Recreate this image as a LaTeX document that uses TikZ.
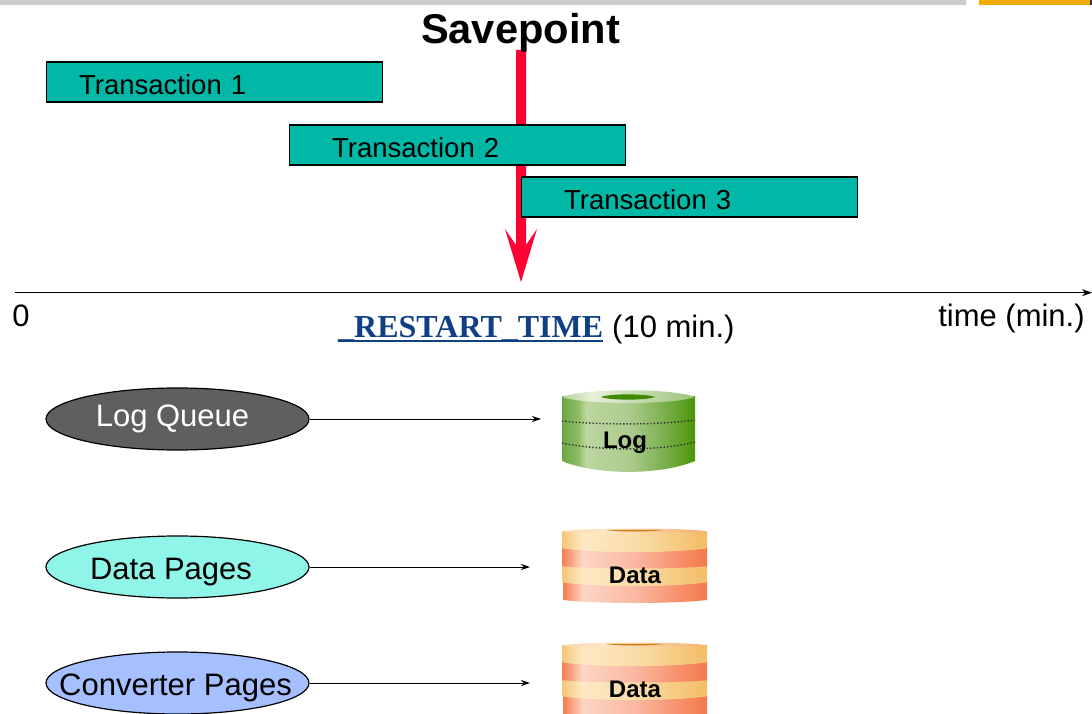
\documentclass[tikz,border=0pt]{standalone}
\usepackage{fontspec}
\setmainfont{Liberation Sans}
\newfontfamily\serifbold[BoldFont={Liberation Serif Bold}]{Liberation Serif}
\usetikzlibrary{arrows.meta,shapes.geometric}
\definecolor{teal1}{HTML}{00B8A5}
\definecolor{redarrow}{HTML}{FF0033}
\definecolor{navy1}{HTML}{0F3F84}
\definecolor{gbar}{HTML}{CCCCCC}
\definecolor{obar}{HTML}{F0AB00}
\definecolor{dbar}{HTML}{1F3A5F}
\definecolor{poolgrey}{HTML}{5F5F5F}
\definecolor{poolaqua}{HTML}{8FF5E8}
\definecolor{poolblue}{HTML}{A6C0FF}
\definecolor{holegreen}{HTML}{3F8A00}
\definecolor{holeorange}{HTML}{C88010}
\pgfdeclarehorizontalshading{logshade}{100bp}{rgb(0bp)=(0.42,0.65,0.27); rgb(25bp)=(0.42,0.65,0.27); rgb(31bp)=(0.55,0.74,0.40); rgb(34bp)=(0.74,0.84,0.62); rgb(50bp)=(0.68,0.80,0.56); rgb(62bp)=(0.50,0.70,0.33); rgb(75bp)=(0.29,0.59,0.03); rgb(100bp)=(0.29,0.59,0.03)}
\pgfdeclarehorizontalshading{logtop}{100bp}{rgb(0bp)=(0.70,0.82,0.60); rgb(25bp)=(0.70,0.82,0.60); rgb(36bp)=(0.90,0.94,0.85); rgb(50bp)=(0.80,0.88,0.72); rgb(75bp)=(0.62,0.76,0.48); rgb(100bp)=(0.62,0.76,0.48)}
\pgfdeclarehorizontalshading{yelshade}{100bp}{rgb(0bp)=(0.96,0.78,0.47); rgb(25bp)=(0.96,0.78,0.47); rgb(32bp)=(0.99,0.91,0.77); rgb(50bp)=(0.98,0.87,0.66); rgb(75bp)=(0.95,0.74,0.40); rgb(100bp)=(0.95,0.74,0.40)}
\pgfdeclarehorizontalshading{redshade}{100bp}{rgb(0bp)=(0.97,0.49,0.31); rgb(25bp)=(0.97,0.49,0.31); rgb(32bp)=(0.99,0.84,0.77); rgb(50bp)=(0.98,0.72,0.63); rgb(75bp)=(0.96,0.47,0.29); rgb(100bp)=(0.96,0.47,0.29)}
\pgfdeclarehorizontalshading{toppale}{100bp}{rgb(0bp)=(0.98,0.84,0.66); rgb(25bp)=(0.98,0.84,0.66); rgb(40bp)=(0.99,0.91,0.80); rgb(75bp)=(0.96,0.68,0.44); rgb(100bp)=(0.96,0.68,0.44)}
% band between two arcs: x1,x2,ytop,ybot,top bulge,bottom bulge,shading
\newcommand{\cylband}[7]{%
  \shade[shading=#7] (#1,#3) .. controls (#1+35,#3+#5) and (#2-35,#3+#5) .. (#2,#3)
    -- (#2,#4) .. controls (#2-35,#4+#6) and (#1+35,#4+#6) .. (#1,#4) -- cycle;}
\newcommand{\datacyl}[1]{%
  \begin{scope}[yshift=-#1pt]
    \cylband{563}{707}{582}{600}{5}{4}{redshade}
    \cylband{562}{707}{566}{582.3}{3}{5}{yelshade}
    \cylband{562}{707}{548}{566.3}{5}{3}{redshade}
    \cylband{562}{707}{531}{548.3}{0}{5}{yelshade}
    \shade[shading=toppale] (562,531.5) .. controls (580,527.5) and (690,527.5) .. (707,531.5) .. controls (690,533) and (580,533) .. (562,531.5) -- cycle;
    \fill[holeorange] (606,530) .. controls (615,529.7) and (653,529.7) .. (663,530) .. controls (650,532) and (618,532) .. (606,530) -- cycle;
  \end{scope}}
\tikzset{
  trans/.style={draw=black,line width=1.3pt,fill=teal1,text width=336pt,minimum height=40pt,inner xsep=0pt,inner ysep=0pt,align=left,font=\fontsize{27.5}{30}\selectfont,anchor=north west},
  pool/.style={ellipse,draw=black,line width=1.2pt,minimum width=263pt,minimum height=62pt,inner sep=0pt},
  big/.style={inner sep=0pt,font=\fontsize{31}{34}\selectfont},
  disklabel/.style={inner sep=0pt,font=\bfseries\fontsize{24}{26}\selectfont},
  link/.style={line width=1pt,-{Stealth[length=9pt,width=6pt]}},
}
\begin{document}
\begin{tikzpicture}[x=1pt,y=-1pt]
\useasboundingbox (0,0) rectangle (1092,714);
\clip (0,0) rectangle (1092,714);
% top bar
\fill[gbar] (0,0) rectangle (966,5);
\fill[obar] (979,0) rectangle (1090,5);
\fill[dbar] (1090,0) rectangle (1092,5);
% savepoint arrow
\fill[redarrow] (516,50) -- (526,50) -- (526,245) -- (537,229) -- (521,282) -- (505,229) -- (516,245) -- cycle;
\node[inner sep=0pt,font=\bfseries\fontsize{41.6}{44}\selectfont] (title) at (520.5,33) {Savepoint};
% transactions
\node[trans] (t1) at (45.5,61.5) {\hspace*{33pt}\rule{0pt}{24pt}Transaction 1};
\node[trans] (t2) at (288.5,124.5) {\hspace*{43pt}\rule{0pt}{24pt}Transaction 2};
\node[trans] (t3) at (520.5,176.5) {\hspace*{43pt}\rule{0pt}{24pt}Transaction 3};
% time axis
\coordinate (axL) at (15,292.7);
\coordinate (axR) at (1092,292.7);
\draw[line width=1pt,-{Stealth[length=10pt,width=7pt]}] (axL) -- (axR);
\node[big,anchor=base] (zero) at (21,326) {0};
\node[big,anchor=base] (timel) at (1011.5,326) {time (min.)};
\node[inner sep=0pt,anchor=base west,text=navy1,font=\serifbold\bfseries\fontsize{32}{34}\selectfont] (rt) at (338,337) {\_RESTART\_TIME};
\draw[navy1,line width=1.3pt] (338,341) -- (603,341);
\node[big,anchor=base west] (ten) at (612,337) {(10 min.)};
% log disk
\cylband{562}{695}{396}{461}{0}{14.5}{logshade}
\shade[shading=logtop] (562,397) .. controls (585,388) and (672,388) .. (695,397) .. controls (672,405) and (585,405) .. (562,397) -- cycle;
\fill[holegreen] (601,397) .. controls (610,393.5) and (646,393.5) .. (655,397) .. controls (646,400.5) and (610,400.5) .. (601,397) -- cycle;
\draw[black!80,line width=1.4pt,dotted] (562,421) .. controls (600,425) and (660,425) .. (695,420);
\draw[black!80,line width=1.4pt,dotted] (562,443) .. controls (600,451) and (660,451) .. (695,442);
\node[disklabel] (logd) at (625,443) {Log};
% data disks
\datacyl{0}
\node[disklabel] (d1) at (635,575) {Data};
\datacyl{114}
\node[disklabel] (d2) at (635,689) {Data};
% pools
\node[pool,fill=poolgrey] (lq) at (177.5,419) {};
\node[big,text=white] (lqt) at (172.5,419) {Log Queue};
\node[pool,fill=poolaqua] (dp) at (177.5,567) {};
\node[big] (dpt) at (171,572) {Data Pages};
\node[pool,fill=poolblue] (cp) at (177.5,683) {};
\node[big] (cpt) at (175.5,688) {Converter Pages};
% connectors
\coordinate (login) at (541,419);
\coordinate (d1in) at (530,567);
\coordinate (d2in) at (530,683);
\draw[link] (lq) -- (login);
\draw[link] (dp) -- (d1in);
\draw[link] (cp) -- (d2in);
\end{tikzpicture}
\end{document}
